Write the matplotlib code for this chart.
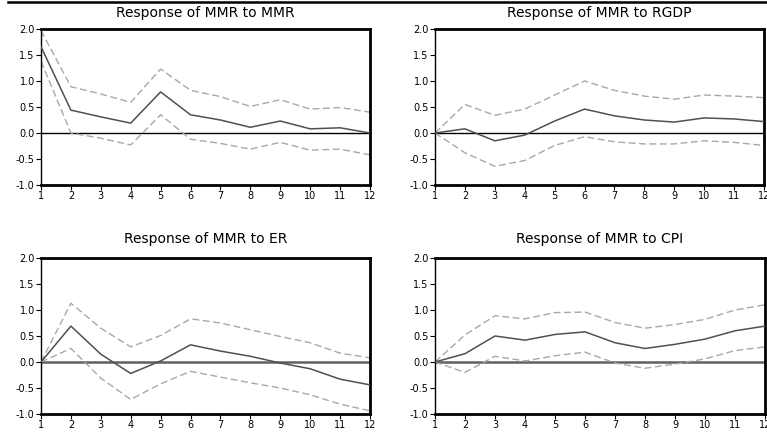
import matplotlib
matplotlib.use("Agg")
import matplotlib.pyplot as plt
from matplotlib.lines import Line2D

plt.rcParams['font.family'] = ['DejaVu Sans']
plt.rcParams['axes.unicode_minus'] = False

periods = list(range(1, 13))

titles = ["Response of MMR to MMR", "Response of MMR to RGDP",
          "Response of MMR to ER", "Response of MMR to CPI"]

mmr_resp = [1.66, 0.44, 0.31, 0.19, 0.79, 0.35, 0.25, 0.11, 0.23, 0.08, 0.10, 0.00]
mmr_upper = [1.97, 0.89, 0.75, 0.59, 1.23, 0.82, 0.70, 0.51, 0.64, 0.46, 0.49, 0.40]
mmr_lower = [1.38, 0.00, -0.10, -0.23, 0.35, -0.12, -0.20, -0.31, -0.18, -0.33, -0.31, -0.42]

rgdp_resp = [0.00, 0.08, -0.15, -0.04, 0.23, 0.46, 0.33, 0.25, 0.21, 0.29, 0.27, 0.22]
rgdp_upper = [0.00, 0.55, 0.34, 0.46, 0.73, 1.00, 0.82, 0.71, 0.65, 0.73, 0.71, 0.68]
rgdp_lower = [0.00, -0.38, -0.64, -0.53, -0.24, -0.07, -0.17, -0.21, -0.21, -0.15, -0.18, -0.24]

er_resp = [0.00, 0.69, 0.15, -0.22, 0.02, 0.33, 0.21, 0.11, -0.02, -0.13, -0.33, -0.44]
er_upper = [0.00, 1.13, 0.65, 0.29, 0.51, 0.83, 0.75, 0.62, 0.49, 0.37, 0.17, 0.08]
er_lower = [0.00, 0.26, -0.31, -0.72, -0.42, -0.18, -0.29, -0.40, -0.50, -0.63, -0.81, -0.94]

cpi_resp = [0.00, 0.16, 0.50, 0.42, 0.53, 0.58, 0.37, 0.26, 0.34, 0.44, 0.60, 0.69]
cpi_upper = [0.00, 0.52, 0.89, 0.83, 0.95, 0.96, 0.76, 0.65, 0.72, 0.82, 1.00, 1.10]
cpi_lower = [0.00, -0.20, 0.11, 0.02, 0.12, 0.19, -0.02, -0.12, -0.04, 0.06, 0.22, 0.29]

yticks = [-1.0, -0.5, 0.0, 0.5, 1.0, 1.5, 2.0]
ytick_labels = ["-1.0", "-0.5", "0.0", "0.5", "1.0", "1.5", "2.0"]

series = [(mmr_resp, mmr_upper, mmr_lower),
          (rgdp_resp, rgdp_upper, rgdp_lower),
          (er_resp, er_upper, er_lower),
          (cpi_resp, cpi_upper, cpi_lower)]

W, H = 767, 442
fig = plt.figure(figsize=(W / 100, H / 100), dpi=100)

boxes = [(41, 370, 29, 185), (435, 764, 29, 185),
         (41, 370, 258, 414), (435, 765, 258, 414)]

for i, (box, title, (resp, up, lo)) in enumerate(zip(boxes, titles, series)):
    l, r, t, b = box
    ax = fig.add_axes([l / W, (H - b) / H, (r - l) / W, (b - t) / H])
    zero_col = 'black' if i < 2 else '#606060'
    zero_lw = 1.0 if i < 2 else 1.8
    ax.axhline(0, color=zero_col, lw=zero_lw, zorder=1)
    ax.plot(periods, up, color='#a8a8a8', lw=1.0, ls=(0, (5, 2.5)), zorder=2)
    ax.plot(periods, lo, color='#a8a8a8', lw=1.0, ls=(0, (5, 2.5)), zorder=2)
    ax.plot(periods, resp, color='#505050', lw=1.1, zorder=3)
    ax.set_xlim(1, 12)
    ax.set_ylim(-1.0, 2.0)
    ax.set_xticks(periods)
    ax.set_xticklabels([str(p) for p in periods])
    ax.set_yticks(yticks)
    ax.set_yticklabels(ytick_labels)
    ax.tick_params(axis='both', direction='out', length=3.5, width=0.8,
                   labelsize=7, pad=1, colors='black')
    for side in ['top', 'right', 'bottom']:
        ax.spines[side].set_linewidth(2.0)
    ax.spines['left'].set_linewidth(1.0)
    ax.set_title(title, fontsize=10, pad=9 if i < 2 else 11)

fig.add_artist(Line2D([8 / W, 1.0], [1 - 1.5 / H, 1 - 1.5 / H],
                      color='black', lw=1.8, transform=fig.transFigure))

fig.savefig("out.png", dpi=100)
